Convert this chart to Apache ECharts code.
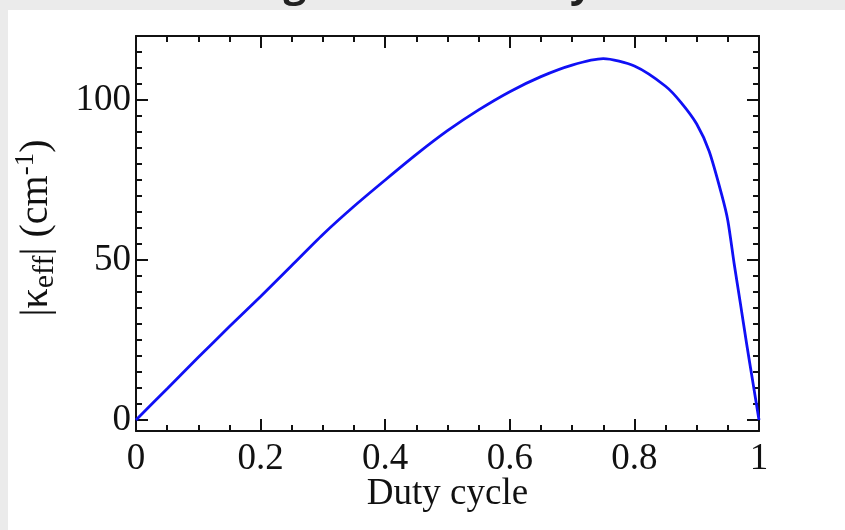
<!DOCTYPE html>
<html>
<head>
<meta charset="utf-8">
<script src="https://cdn.jsdelivr.net/npm/echarts@6/dist/echarts.min.js"></script>
<style>
html,body{margin:0;padding:0;background:#fff;}
#c{width:845px;height:530px;}
</style>
</head>
<body>
<div id="c"></div>
<script>
// ---- data ----
const dutyCycle = [0,0.05,0.1,0.15,0.2,0.25,0.3,0.35,0.4,0.45,0.5,0.55,0.6,0.65,0.7,0.75,0.8,0.85,0.875,0.9,0.92,0.94,0.95,0.96,0.97,0.98,0.99,1];
const kappaEff  = [0,9.8,19.6,29.2,38.6,48.3,58.0,66.8,75.0,83.0,90.4,96.9,102.6,107.3,110.9,112.9,110.6,104.3,99.2,92.5,84.0,70.5,62.3,49.0,36.6,24.0,12.0,0];
const xTicks = [0, 0.2, 0.4, 0.6, 0.8, 1];
const yTicks = [0, 50, 100];
const xLabel = 'Duty cycle';
const titleText = 'Strength versus duty';

const pts = dutyCycle.map((x, i) => [x, kappaEff[i]]);
const serif = '"Liberation Serif", "DejaVu Serif", serif';
const black = '#111';
const FS = 37;
const tickStyle = {color: black, width: 2};

const frameX = (pos, labels) => ({
  gridIndex: 0, type: 'value', position: pos, min: 0, max: 1, interval: 0.2,
  axisLine: {show: true, onZero: false, lineStyle: {color: black, width: 2}},
  axisTick: {show: true, inside: true, length: 12, lineStyle: tickStyle},
  minorTick: {show: true, splitNumber: 4, length: 6, lineStyle: tickStyle},
  splitLine: {show: false}, minorSplitLine: {show: false},
  axisLabel: labels ? {show: true, fontFamily: serif, fontSize: FS, color: black, margin: 10,
      formatter: v => (xTicks.some(t => Math.abs(t - v) < 1e-9) ? String(+v.toFixed(1)) : '')} : {show: false},
  name: labels ? xLabel : '', nameLocation: 'middle', nameGap: 45, nameMoveOverlap: false,
  nameTextStyle: {fontFamily: serif, fontSize: FS, color: black}
});
const frameY = pos => ({
  gridIndex: 0, type: 'value', position: pos, min: 0, max: 1,
  axisLine: {show: true, onZero: false, lineStyle: {color: black, width: 2}},
  axisTick: {show: false}, axisLabel: {show: false}, splitLine: {show: false}
});
const dataY = (pos, major, labels) => ({
  gridIndex: 1, type: 'value', position: pos, min: 0, max: 120, interval: major ? 50 : 5,
  axisLine: {show: false, onZero: false},
  axisTick: {show: true, inside: true, length: major ? 12 : 6, lineStyle: tickStyle},
  splitLine: {show: false},
  axisLabel: labels ? {show: true, fontFamily: serif, fontSize: FS, color: black, margin: 5, showMaxLabel: false,
      formatter: v => (yTicks.includes(v) ? String(v) : '')} : {show: false},
  name: labels ? '{a|\u007C\u03BA}{s|eff}{a|\u007C (cm}{p|-1}{a|)}' : '',
  nameLocation: 'middle', nameGap: 74,
  nameTextStyle: labels ? {
    color: black,
    rich: {
      a: {fontFamily: serif, fontSize: 40, color: black, lineHeight: 52},
      s: {fontFamily: serif, fontSize: 30, color: black, lineHeight: 52, padding: [18, 0, 0, 0]},
      p: {fontFamily: serif, fontSize: 27, color: black, lineHeight: 52, padding: [0, 0, 20, 0]}
    }
  } : {}
});

const option = {
  backgroundColor: '#ffffff',
  animation: false,
  graphic: [
    {type: 'rect', left: 0, top: 0, shape: {width: 845, height: 10}, style: {fill: '#ebebeb'}, z: 0},
    {type: 'rect', left: 0, top: 0, shape: {width: 8, height: 530}, style: {fill: '#ebebeb'}, z: 0},
    {type: 'text', left: 176, top: -34, style: {text: titleText, fontFamily: '"Open Sans", "Noto Sans", sans-serif', fontWeight: 'bold', fontSize: 40, fill: '#222'}, z: 1}
  ],
  grid: [
    {left: 136, right: 86, top: 36, bottom: 99, show: false},
    {left: 136, right: 86, top: 36, bottom: 110, show: false}
  ],
  xAxis: [
    frameX('bottom', true),
    frameX('top', false),
    {gridIndex: 1, type: 'value', min: 0, max: 1, show: false}
  ],
  yAxis: [
    frameY('left'),
    frameY('right'),
    dataY('left', true, true),
    dataY('left', false, false),
    dataY('right', true, false),
    dataY('right', false, false)
  ],
  series: [{
    type: 'line', xAxisIndex: 2, yAxisIndex: 2, data: pts,
    showSymbol: false, smooth: 0.25,
    lineStyle: {color: '#1010f5', width: 2.8}, z: 3
  }]
};
const chart = echarts.init(document.getElementById('c'), null, {renderer: 'canvas'});
chart.setOption(option);
</script>
</body>
</html>
